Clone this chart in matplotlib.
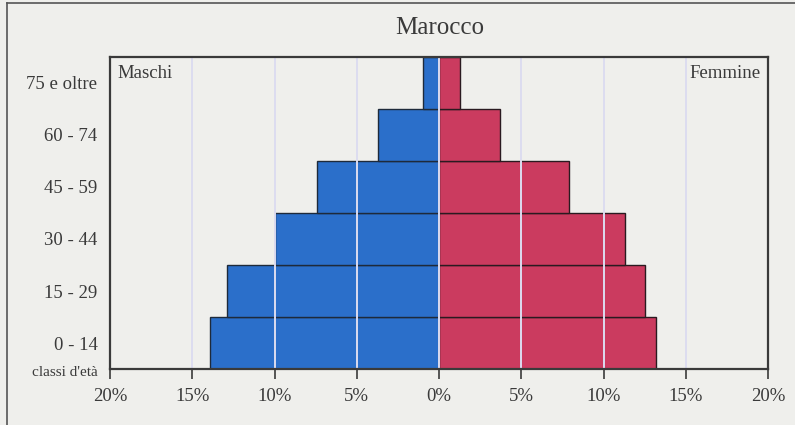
import numpy as np
import matplotlib
matplotlib.use("Agg")
from matplotlib import pyplot as plt
from matplotlib.lines import Line2D

classi = ['0 - 14', '15 - 29', '30 - 44', '45 - 59', '60 - 74', '75 e oltre']
maschi = [13.9, 12.9, 10.0, 7.4, 3.7, 1.0]
femmine = [13.2, 12.5, 11.3, 7.9, 3.7, 1.3]
xticks = [-20, -15, -10, -5, 0, 5, 10, 15, 20]
xlabels = ['20%', '15%', '10%', '5%', '0%', '5%', '10%', '15%', '20%']

bg = '#efefec'
blu = '#2b6fca'
rosso = '#cb3b5f'
scuro = '#3a3a3a'

plt.rcParams['font.family'] = ['Liberation Serif', 'DejaVu Serif']

fig = plt.figure(figsize=(7.95, 4.25), dpi=100, facecolor=bg)
ax = fig.add_axes([110/795, 56/425, 658/795, 312/425])
ax.set_facecolor(bg)

y = np.arange(len(classi))
ax.barh(y, -np.array(maschi), height=1.0, color=blu, edgecolor='#1e2a3a', linewidth=1.0, zorder=2)
ax.barh(y, femmine, height=1.0, color=rosso, edgecolor='#2a1a20', linewidth=1.0, zorder=2)

# grid lines drawn over the bars
for v in [-15, -10, -5, 0, 5, 10, 15]:
    ax.axvline(v, color='#dcdcf0', lw=1.4, zorder=3)

ax.set_xlim(-20, 20)
ax.set_ylim(-0.5, len(classi) - 0.5)
ax.set_xticks(xticks)
ax.set_xticklabels(xlabels, fontsize=13.5, color=scuro)
ax.set_yticks(y)
ax.set_yticklabels(classi, fontsize=13.5, color=scuro)
ax.tick_params(axis='x', direction='out', length=7, width=1.2, color=scuro, pad=7)
ax.tick_params(axis='y', length=0, pad=9)
for s in ax.spines.values():
    s.set_color(scuro)
    s.set_linewidth(1.6)
    s.set_zorder(4)

ax.text(0.012, 0.975, 'Maschi', transform=ax.transAxes, ha='left', va='top', fontsize=13.5, color=scuro)
ax.text(0.988, 0.975, 'Femmine', transform=ax.transAxes, ha='right', va='top', fontsize=13.5, color=scuro)
fig.text(98/795, 1 - 373/425, "classi d'età", ha='right', va='center', fontsize=11, color=scuro)
fig.text(440/795, 1 - 28/425, 'Marocco', ha='center', va='center', fontsize=18, color=scuro)

# outer frame (left and top edges of the scanned box)
fig.add_artist(Line2D([7/795, 7/795], [0, 1 - 3/425], transform=fig.transFigure, color='#555555', lw=1.2))
fig.add_artist(Line2D([7/795, 1], [1 - 3/425, 1 - 3/425], transform=fig.transFigure, color='#555555', lw=1.2))

fig.savefig('out.png', dpi=100, facecolor=bg)
